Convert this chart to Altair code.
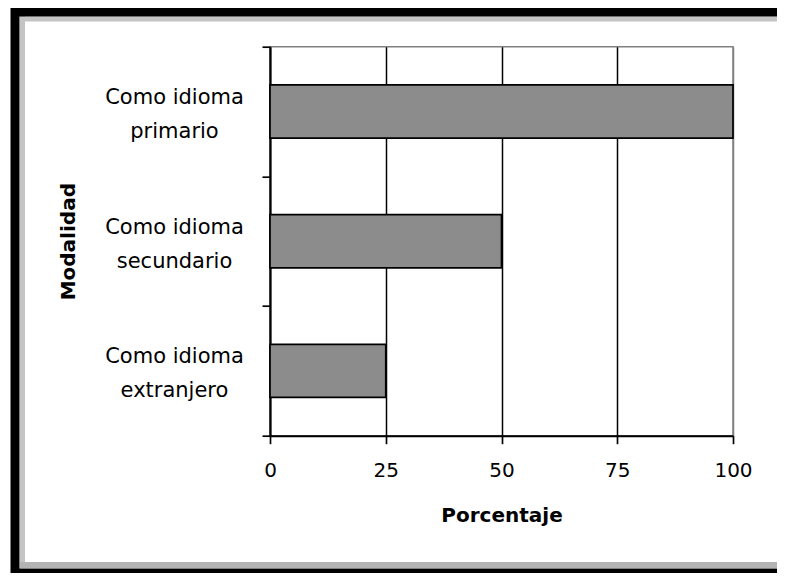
import altair as alt
import pandas as pd

categories = ["Como idioma primario", "Como idioma secundario", "Como idioma extranjero"]
values = [100, 50, 25]
x_ticks = [0, 25, 50, 75, 100]

df = pd.DataFrame({"Modalidad": categories, "Porcentaje": values})

W, H = 463, 389
FONT = "DejaVu Sans"

bars = alt.Chart(df).mark_bar(
    color="#8c8c8c", stroke="black", strokeWidth=1.7,
    height=alt.RelativeBandSize(0.41)
).encode(
    x=alt.X("Porcentaje:Q", scale=alt.Scale(domain=[0, 100], nice=False),
            axis=alt.Axis(values=x_ticks, title="Porcentaje", grid=True,
                          gridColor={"condition": {"test": "datum.value >= 100", "value": "#808080"}, "value": "black"},
                          gridWidth=1.5, domainColor="black", domainWidth=2,
                          tickColor="black", tickSize=8, tickWidth=1.7,
                          labelFont=FONT, labelFontSize=20, labelColor="black", labelPadding=17,
                          labelFlush=False, labelOverlap=False,
                          titleFont=FONT, titleFontSize=20, titleFontWeight="bold", titleColor="black",
                          titleY=80, titleBaseline="middle")),
    y=alt.Y("Modalidad:N", sort=categories, scale=alt.Scale(paddingInner=0, paddingOuter=0),
            axis=alt.Axis(title="Modalidad", tickBand="extent", grid=False,
                          domainColor="black", domainWidth=2,
                          tickColor="black", tickSize=8, tickWidth=1.7,
                          labelExpr="[substring(datum.label, 0, 11), substring(datum.label, 12)]",
                          labelFont=FONT, labelFontSize=21, labelColor="black",
                          labelAlign="center", labelBaseline="middle", labelPadding=88,
                          labelLineHeight=34, labelOffset=-14,
                          titleFont=FONT, titleFontSize=20, titleFontWeight="bold", titleColor="black",
                          titleX=-202, titleY=H / 2, titleAngle=270,
                          titleBaseline="middle", titleAlign="center"))
)

frame_df = pd.DataFrame({"k": [0]})
frame = alt.Chart(frame_df).mark_rect(fill="white", fillOpacity=0, stroke="black", strokeWidth=9).encode(
    x=alt.value(-255), x2=alt.value(520), y=alt.value(-34.7), y2=alt.value(526.3))
shadow_left = alt.Chart(frame_df).mark_rule(color="#c4c4c4", strokeWidth=5).encode(
    x=alt.value(-247.5), y=alt.value(-30.7), y2=alt.value(521.3))
shadow_top = alt.Chart(frame_df).mark_rule(color="#c4c4c4", strokeWidth=5).encode(
    y=alt.value(-27.7), x=alt.value(-250), x2=alt.value(520))
shadow_bottom = alt.Chart(frame_df).mark_rule(color="#b4b4b4", strokeWidth=6).encode(
    y=alt.value(518.3), x=alt.value(-250), x2=alt.value(520))

chart = alt.layer(shadow_left, shadow_top, shadow_bottom, frame, bars).properties(
    width=W, height=H,
    autosize=alt.AutoSizeParams(type="none"),
    padding={"left": 262, "top": 38.7, "right": 44, "bottom": 137.3},
    background="white",
).configure_view(stroke="#808080", strokeWidth=1.5)

chart.save("out.html", embed_options={"renderer": "svg", "actions": False})
